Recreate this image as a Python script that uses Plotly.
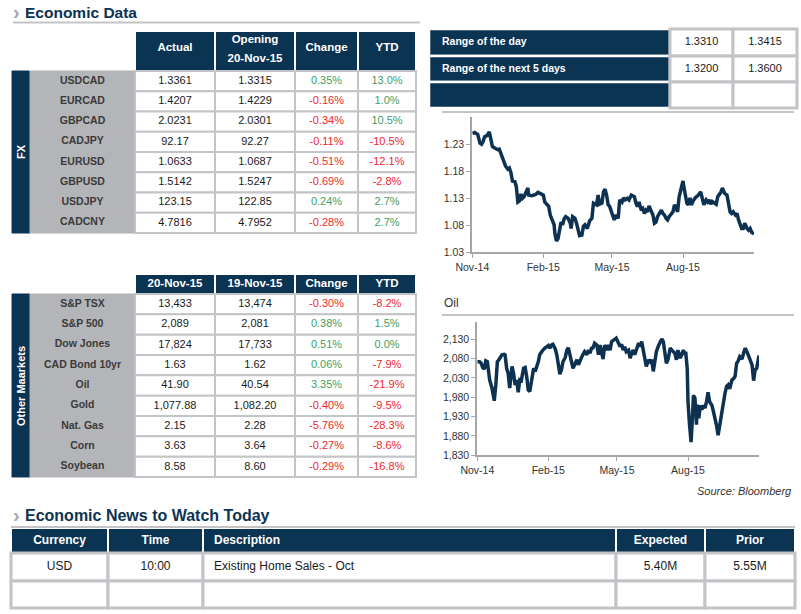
import plotly.graph_objects as go
import pandas as pd

# ---------------- data ----------------
fx_pairs = ["USDCAD", "EURCAD", "GBPCAD", "CADJPY", "EURUSD", "GBPUSD", "USDJPY", "CADCNY"]
fx_actual = ["1.3361", "1.4207", "2.0231", "92.17", "1.0633", "1.5142", "123.15", "4.7816"]
fx_opening = ["1.3315", "1.4229", "2.0301", "92.27", "1.0687", "1.5247", "122.85", "4.7952"]
fx_change = ["0.35%", "-0.16%", "-0.34%", "-0.11%", "-0.51%", "-0.69%", "0.24%", "-0.28%"]
fx_ytd = ["13.0%", "1.0%", "10.5%", "-10.5%", "-12.1%", "-2.8%", "2.7%", "2.7%"]
fx_headers = ["Actual", "Opening", "Change", "YTD"]
fx_open_date = "20-Nov-15"

mkt_names = ["S&P TSX", "S&P 500", "Dow Jones", "CAD Bond 10yr", "Oil", "Gold", "Nat. Gas", "Corn", "Soybean"]
mkt_today = ["13,433", "2,089", "17,824", "1.63", "41.90", "1,077.88", "2.15", "3.63", "8.58"]
mkt_prev = ["13,474", "2,081", "17,733", "1.62", "40.54", "1,082.20", "2.28", "3.64", "8.60"]
mkt_change = ["-0.30%", "0.38%", "0.51%", "0.06%", "3.35%", "-0.40%", "-5.76%", "-0.27%", "-0.29%"]
mkt_ytd = ["-8.2%", "1.5%", "0.0%", "-7.9%", "-21.9%", "-9.5%", "-28.3%", "-8.6%", "-16.8%"]
mkt_headers = ["20-Nov-15", "19-Nov-15", "Change", "YTD"]

range_labels = ["Range of the day", "Range of the next 5 days", ""]
range_low = ["1.3310", "1.3200", ""]
range_high = ["1.3415", "1.3600", ""]

news_headers = ["Currency", "Time", "Description", "Expected", "Prior"]
news_currency = ["USD", ""]
news_time = ["10:00", ""]
news_desc = ["Existing Home Sales - Oct", ""]
news_expected = ["5.40M", ""]
news_prior = ["5.55M", ""]

chart_start = "2014-11-20"
chart_end = "2015-11-20"
tick_dates = ["2014-11-20", "2015-02-20", "2015-05-20", "2015-08-20"]
tick_labels = ["Nov-14", "Feb-15", "May-15", "Aug-15"]
fx_yticks = [1.03, 1.08, 1.13, 1.18, 1.23]
oil_yticks = [1830, 1880, 1930, 1980, 2030, 2080, 2130]

# FX chart (days since start, value)
fx_days = [0, 3, 7, 10, 12, 14, 16, 19, 22, 24, 26, 29, 33, 35, 37, 40, 43, 46, 48, 50,
           52, 55, 57, 59, 61, 63, 65, 67, 70, 72, 73, 77, 80, 82, 85, 89, 92, 94, 97, 99,
           101, 104, 106, 107, 109, 111, 114, 115, 117, 119, 121, 124, 127, 128, 130, 133, 135, 137, 139, 142,
           144, 146, 149, 152, 155, 157, 159, 161, 163, 165, 168, 170, 172, 174, 176,
           178, 181, 184, 186, 189, 191, 194, 196, 198, 201, 203, 206, 210, 212, 214, 216, 219, 221, 223, 225,
           227, 229, 232, 234, 236, 238, 240, 242, 245, 247, 249, 251, 253, 255, 257, 260, 262, 264, 266, 268,
           270, 273, 274, 276, 278, 280, 282, 284, 286, 289, 291, 293, 296, 298, 300, 303, 305, 307, 309, 311,
           314, 316, 318, 320, 322, 324, 327, 330, 332, 334, 336, 338, 341, 343, 345, 347, 349, 351, 353, 356,
           358, 360, 362, 365]
fx_values = [1.250, 1.252, 1.2485, 1.232, 1.230, 1.235, 1.244, 1.246, 1.253, 1.241,
             1.226, 1.223, 1.220, 1.221, 1.213, 1.201, 1.190, 1.184, 1.186, 1.178,
             1.162, 1.161, 1.152, 1.123, 1.125, 1.138, 1.130, 1.133, 1.142, 1.149,
             1.136, 1.135, 1.136, 1.137, 1.141, 1.138, 1.136, 1.123, 1.119, 1.115,
             1.099, 1.086, 1.081, 1.065, 1.051, 1.055, 1.074, 1.086, 1.081, 1.092,
             1.096, 1.093, 1.084, 1.074, 1.096, 1.093, 1.084, 1.068, 1.061, 1.062,
             1.078, 1.081, 1.074, 1.088, 1.093, 1.121, 1.119, 1.118, 1.136, 1.119,
             1.121, 1.142, 1.147, 1.136, 1.118,
             1.115, 1.102, 1.090, 1.099, 1.093, 1.127, 1.123, 1.131, 1.127, 1.130,
             1.127, 1.136, 1.133, 1.121, 1.115, 1.123, 1.108, 1.111, 1.102, 1.108,
             1.105, 1.116, 1.105, 1.099, 1.084, 1.086, 1.096, 1.102, 1.108, 1.102,
             1.099, 1.093, 1.090, 1.096, 1.099, 1.105, 1.118, 1.111, 1.105, 1.133,
             1.145, 1.162, 1.152, 1.133, 1.121, 1.118, 1.131, 1.118, 1.125, 1.131,
             1.133, 1.136, 1.142, 1.127, 1.118, 1.127, 1.123, 1.127, 1.119, 1.124,
             1.121, 1.119, 1.133, 1.136, 1.141, 1.149, 1.139, 1.136, 1.124, 1.105,
             1.102, 1.105, 1.099, 1.102, 1.090, 1.081, 1.074, 1.074, 1.084, 1.074,
             1.071, 1.074, 1.067, 1.064]

# "Oil" chart (days since start, value)
oil_days = [0, 3, 5, 7, 9, 11, 13, 15, 16, 19, 21, 22, 24, 26, 28, 30, 32, 35, 36, 38,
            40, 42, 45, 47, 49, 51, 53, 55, 57, 60, 62, 64, 66, 68, 70, 73, 75, 77, 79, 81,
            83, 85, 88, 90, 92, 94, 96, 98, 101, 103, 105, 107, 109, 111, 114, 116, 118, 120, 122, 124,
            127, 129, 131, 133, 135, 137, 139, 142, 144, 146, 148, 150, 152, 155, 157, 159, 161, 163, 165, 168,
            170, 172, 174, 176,
            178, 180, 183, 185, 187, 189, 191, 193, 196, 198, 200, 202, 204, 206, 209, 211, 213, 215, 217, 219,
            222, 224, 226, 228, 230, 232, 235, 237, 239, 241, 243, 245, 247, 250, 252, 254, 256, 258, 260, 263,
            265, 267, 269, 270, 272, 273, 275, 277, 279, 280, 282, 284, 285, 287, 289, 291, 293, 295, 297, 299,
            301, 304, 306, 308, 310, 312, 314, 317, 319, 321, 323, 325, 327, 330, 332, 334, 336, 338, 340, 343,
            345, 347, 349, 351, 353, 356, 358, 360, 362, 364, 365]
oil_values = [2072, 2072, 2068, 2057, 2053, 2074, 2072, 2047, 2025, 2004,
              1982, 1971, 2012, 2072, 2077, 2083, 2090, 2091, 2090, 2055,
              2042, 2004, 2060, 2042, 2012, 2025, 1993, 2025, 2023, 2055,
              2057, 2034, 1999, 1995, 2021, 2055, 2047, 2057, 2072, 2091,
              2098, 2102, 2108, 2111, 2114, 2107, 2115, 2117, 2105, 2090,
              2064, 2040, 2051, 2072, 2083, 2102, 2108, 2090, 2081, 2055,
              2068, 2077, 2064, 2077, 2083, 2091, 2098, 2090, 2102, 2094,
              2107, 2108, 2120, 2115, 2090, 2115, 2098, 2079, 2115, 2102,
              2115, 2102, 2124, 2128,
              2131, 2133, 2120, 2111, 2117, 2102, 2111, 2098, 2102, 2081,
              2094, 2102, 2090, 2102, 2120, 2111, 2124, 2102, 2077, 2060,
              2077, 2072, 2077, 2047, 2072, 2098, 2115, 2124, 2131, 2124,
              2098, 2068, 2077, 2107, 2102, 2098, 2094, 2077, 2102, 2081,
              2094, 2102, 2090, 2098, 2055, 1969, 1909, 1864, 1935, 1985,
              1978, 1909, 1961, 1926, 1959, 1948, 1959, 1952, 1969, 1993,
              1969, 1959, 1943, 1926, 1907, 1882, 1909, 1952, 1974, 1991,
              2008, 2012, 2002, 2025, 2028, 2034, 2068, 2074, 2085, 2079,
              2094, 2107, 2100, 2090, 2077, 2064, 2023, 2051, 2055, 2083,
              2088]

# ---------------- style ----------------
W, H = 801, 614
NAVY = "#0b3352"
LABEL_GRAY = "#b4b5b9"
BORDER = "#c3c4c8"
TXT = "#1a1a1a"
LABEL_TXT = "#3a3a3a"
GREEN = "#3f9e68"
RED = "#f0262c"
LINEGRAY = "#c4c4c4"
SERIES = "#0d3251"
FONT = "Liberation Sans, Arial, sans-serif"
PAD = 3


def px(x):
    return x / W


def py(y):
    return 1 - y / H


def sign_colors(vals):
    return [RED if v.strip().startswith("-") else GREEN for v in vals]


fig = go.Figure()
axes_layout = {}


def grid(k, left, top, widths, heights):
    tw, th = sum(widths), sum(heights)
    axes_layout["xaxis%d" % k] = dict(domain=[px(left - PAD), px(left + tw + PAD)], range=[-PAD, tw + PAD],
                                      visible=False, fixedrange=True, anchor="y%d" % k, automargin=False)
    axes_layout["yaxis%d" % k] = dict(domain=[py(top + th + PAD), py(top - PAD)], range=[th + PAD, -PAD],
                                      visible=False, fixedrange=True, anchor="x%d" % k, automargin=False)
    lefts, acc = [], 0
    for w in widths:
        lefts.append(acc)
        acc += w
    centers, acc = [], 0
    for h in heights:
        centers.append(acc + h / 2)
        acc += h
    return lefts, centers


def add_cells(k, widths, heights, lefts, centers, fills, lines, lwidths):
    n = len(heights)
    for j, w in enumerate(widths):
        fig.add_trace(go.Bar(orientation="h", y=centers, x=[w] * n, base=[lefts[j]] * n, width=heights,
                             marker=dict(color=fills[j], line=dict(color=lines[j], width=lwidths[j])),
                             xaxis="x%d" % k, yaxis="y%d" % k, hoverinfo="skip", showlegend=False))


def add_text(k, xs, ys, texts, colors, size, pos="middle center"):
    fig.add_trace(go.Scatter(x=xs, y=ys, text=texts, mode="text", textposition=pos,
                             textfont=dict(color=colors, size=size, family=FONT),
                             xaxis="x%d" % k, yaxis="y%d" % k, hoverinfo="skip", showlegend=False,
                             cliponaxis=False))


# ---- FX table ----
fw = [18, 105, 80, 80, 63, 58]
n = len(fx_pairs)
fh = [40] + [20.25] * n
L, C = grid(3, 12, 31, fw, fh)
data_fill = [NAVY] + ["white"] * n
data_line = ["white"] + [BORDER] * n
add_cells(3, fw, fh, L, C,
          [["white"] + [NAVY] * n, ["white"] + [LABEL_GRAY] * n] + [data_fill] * 4,
          [["white"] + [NAVY] * n, ["white"] + [LABEL_GRAY] * n] + [data_line] * 4,
          [1, 1, 2, 2, 2, 2])
hx = [L[j] + fw[j] / 2 for j in range(2, 6)]
add_text(3, [hx[0], hx[1], hx[1], hx[2], hx[3]], [17, 9.5, 28.5, 17, 17],
         ["<b>%s</b>" % t for t in [fx_headers[0], fx_headers[1], fx_open_date, fx_headers[2], fx_headers[3]]],
         "white", 11.5)
body_y = C[1:]
add_text(3, [L[1] + fw[1] / 2] * n, body_y, ["<b>%s</b>" % p for p in fx_pairs], LABEL_TXT, 10.5)
for j, (vals, cols) in enumerate([(fx_actual, [TXT] * n), (fx_opening, [TXT] * n),
                                   (fx_change, sign_colors(fx_change)), (fx_ytd, sign_colors(fx_ytd))]):
    add_text(3, [L[j + 2] + fw[j + 2] / 2] * n, body_y, vals, cols, 11)

# ---- Other markets table ----
m = len(mkt_names)
mh = [20] + [20.33] * m
L, C = grid(4, 12, 274, fw, mh)
data_fill = [NAVY] + ["white"] * m
data_line = ["white"] + [BORDER] * m
add_cells(4, fw, mh, L, C,
          [["white"] + [NAVY] * m, ["white"] + [LABEL_GRAY] * m] + [data_fill] * 4,
          [["white"] + [NAVY] * m, ["white"] + [LABEL_GRAY] * m] + [data_line] * 4,
          [1, 1, 2, 2, 2, 2])
add_text(4, [L[j] + fw[j] / 2 for j in range(2, 6)], [C[0]] * 4,
         ["<b>%s</b>" % t for t in mkt_headers], "white", 11.5)
body_y = C[1:]
add_text(4, [L[1] + fw[1] / 2] * m, body_y, ["<b>%s</b>" % p for p in mkt_names], LABEL_TXT, 10.5)
for j, (vals, cols) in enumerate([(mkt_today, [TXT] * m), (mkt_prev, [TXT] * m),
                                   (mkt_change, sign_colors(mkt_change)), (mkt_ytd, sign_colors(mkt_ytd))]):
    add_text(4, [L[j + 2] + fw[j + 2] / 2] * m, body_y, vals, cols, 11)

# ---- Range table ----
rw = [241, 63, 64]
rh = [27, 26, 26]
r = len(rh)
L, C = grid(5, 429, 29, rw, rh)
add_cells(5, rw, rh, L, C,
          [[NAVY] * r, ["white"] * r, ["white"] * r],
          [["white"] * r, [BORDER] * r, [BORDER] * r],
          [2.5, 3, 3])
add_text(5, [L[0] + 13] * r, C, ["<b>%s</b>" % t if t else "" for t in range_labels], "white", 10.5,
         pos="middle right")
add_text(5, [L[1] + rw[1] / 2] * r, C, range_low, TXT, 11)
add_text(5, [L[2] + rw[2] / 2] * r, C, range_high, TXT, 11)

# ---- News table ----
nw = [97, 95, 413, 89, 90]
nh = [25, 28, 27]
L, C = grid(6, 11, 528, nw, nh)
nr = len(nh)
add_cells(6, nw, nh, L, C,
          [[NAVY, "white", "white"]] * 5,
          [["white", BORDER, BORDER]] * 5,
          [[2, 3, 3]] * 5)
news_cols = [news_currency, news_time, news_desc, news_expected, news_prior]
for j in range(5):
    if j == 2:
        xs, pos = [L[j] + 11] * nr, "middle right"
    else:
        xs, pos = [L[j] + nw[j] / 2] * nr, "middle center"
    add_text(6, xs, C, ["<b>%s</b>" % news_headers[j]] + news_cols[j], ["white"] + [TXT] * (nr - 1), 12, pos=pos)

# ---- Line charts ----
start = pd.Timestamp(chart_start)
fx_dates = [start + pd.Timedelta(days=d) for d in fx_days]
oil_dates = [start + pd.Timedelta(days=d) for d in oil_days]

fig.add_trace(go.Scatter(x=fx_dates, y=fx_values, mode="lines",
                         line=dict(color=SERIES, width=3.5), xaxis="x", yaxis="y",
                         showlegend=False, hoverinfo="skip"))
fig.add_trace(go.Scatter(x=oil_dates, y=oil_values, mode="lines",
                         line=dict(color=SERIES, width=3.5), xaxis="x2", yaxis="y2",
                         showlegend=False, hoverinfo="skip"))

axis_common = dict(showline=True, linecolor="#a6a6a6", linewidth=2, showgrid=False, zeroline=False,
                   ticks="outside", ticklen=4, tickcolor="#a6a6a6", tickwidth=1, automargin=False,
                   fixedrange=True, tickfont=dict(size=10.5, color="#333333", family=FONT))

fig.update_layout(
    width=W, height=H, margin=dict(l=0, r=0, t=0, b=0, autoexpand=False),
    paper_bgcolor="white", plot_bgcolor="rgba(0,0,0,0)", showlegend=False, barmode="overlay",
    font=dict(family=FONT),
    xaxis=dict(domain=[px(472.3), px(754)], type="date", range=[chart_start, chart_end],
               tickvals=tick_dates, ticktext=tick_labels, anchor="y", **axis_common),
    yaxis=dict(domain=[py(252.3), py(117.3)], range=[1.03, 1.28],
               tickvals=fx_yticks, ticktext=["%.2f" % v for v in fx_yticks], anchor="x", **axis_common),
    xaxis2=dict(domain=[px(477.3), px(759)], type="date", range=[chart_start, chart_end],
                tickvals=tick_dates, ticktext=tick_labels, anchor="y2", **axis_common),
    yaxis2=dict(domain=[py(455.3), py(321.9)], range=[1830, 2175],
                tickvals=oil_yticks, tickformat=",d", anchor="x2", **axis_common),
)
fig.update_layout(axes_layout)

shapes = [
    dict(type="line", xref="paper", yref="paper", x0=px(13), x1=px(420), y0=py(22.5), y1=py(22.5),
         line=dict(color=LINEGRAY, width=2)),
    dict(type="line", xref="paper", yref="paper", x0=px(442), x1=px(794), y0=py(112), y1=py(112),
         line=dict(color=LINEGRAY, width=2)),
    dict(type="line", xref="paper", yref="paper", x0=px(442), x1=px(794), y0=py(315), y1=py(315),
         line=dict(color=LINEGRAY, width=2)),
    dict(type="line", xref="paper", yref="paper", x0=px(11), x1=px(795), y0=py(527), y1=py(527),
         line=dict(color=LINEGRAY, width=2)),
]
fig.update_layout(shapes=shapes)

ann = [
    dict(x=px(11), y=py(12), text="<b>›</b>", font=dict(size=20, color="#a8a8a8", family=FONT),
         xanchor="left", yanchor="middle"),
    dict(x=px(23), y=py(12), text="<b>Economic Data</b>", font=dict(size=15.5, color=NAVY, family=FONT),
         xanchor="left", yanchor="middle"),
    dict(x=px(11), y=py(515), text="<b>›</b>", font=dict(size=20, color="#a8a8a8", family=FONT),
         xanchor="left", yanchor="middle"),
    dict(x=px(23), y=py(515), text="<b>Economic News to Watch Today</b>",
         font=dict(size=16, color=NAVY, family=FONT), xanchor="left", yanchor="middle"),
    dict(x=px(21), y=py(152), text="<b>FX</b>", textangle=-90, font=dict(size=11, color="white", family=FONT),
         xanchor="center", yanchor="middle"),
    dict(x=px(21), y=py(386), text="<b>Other Maarkets</b>", textangle=-90,
         font=dict(size=11, color="white", family=FONT), xanchor="center", yanchor="middle"),
    dict(x=px(442), y=py(303), text="Oil", font=dict(size=12, color="#333333", family=FONT),
         xanchor="left", yanchor="middle"),
    dict(x=px(794), y=py(491), text="<i>Source: Bloomberg</i>", font=dict(size=11, color="#333333", family=FONT),
         xanchor="right", yanchor="middle"),
]
for a in ann:
    a.update(xref="paper", yref="paper", showarrow=False)
fig.update_layout(annotations=ann)

fig.write_html("out.html", config={"displayModeBar": False},
               post_script="document.body.style.margin='0px';")
